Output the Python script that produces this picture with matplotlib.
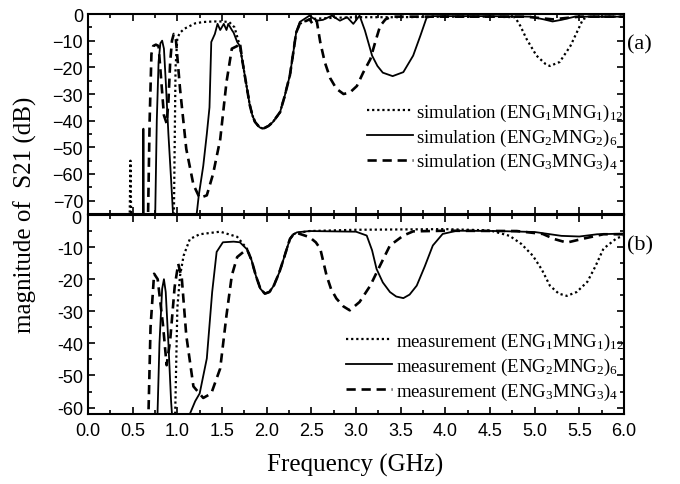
import matplotlib
matplotlib.use("Agg")
import matplotlib.pyplot as plt
from matplotlib.ticker import MultipleLocator, FuncFormatter

plt.rcParams['mathtext.fontset'] = 'custom'
plt.rcParams['mathtext.rm'] = 'Liberation Serif'
plt.rcParams['mathtext.it'] = 'Liberation Serif:italic'

# ---- simulation (top panel) ----
sim1_f = [0.0, 0.465, 0.475, 0.485, 0.96, 0.98, 1.0, 1.03, 1.08, 1.14, 1.2, 1.29, 1.4, 1.5,
          1.58, 1.64, 1.70, 1.73, 1.76, 1.81, 1.84, 1.87, 1.92, 1.96, 2.02, 2.07, 2.15, 2.2,
          2.26, 2.3, 2.33, 2.37, 2.48, 2.7,
          3.0, 3.5, 4.0, 4.5, 4.78, 4.84, 4.91, 5.02, 5.12, 5.17, 5.28, 5.4, 5.49, 5.54,
          5.6, 5.8, 6.0]
sim1_db = [-80, -80, -55, -80, -80, -20, -9, -7, -5.5, -4.5, -3.5, -3, -2.8, -2.8,
           -3, -5, -12, -18, -24, -34, -38, -40.5, -42.5, -43, -42, -40.5, -36.8, -31,
           -23, -14, -7, -3.7, -1.9, -1.5,
           -1.2, -1.2, -1, -1, -1.2, -4.5, -9.4, -15.6, -18.7, -19.5, -18, -12, -5.6, -2,
           -1, -1, -1]

sim2_f = [0.0, 0.615, 0.62, 0.625, 0.75, 0.77, 0.79, 0.81, 0.83, 0.85, 0.87, 0.9, 0.93,
          0.96, 1.2, 1.24, 1.29, 1.33, 1.36, 1.38, 1.42, 1.45, 1.48, 1.52, 1.55, 1.57, 1.61,
          1.63, 1.67, 1.70, 1.73, 1.76, 1.81, 1.84, 1.87, 1.92, 1.96, 2.02, 2.07, 2.15, 2.2,
          2.26, 2.3, 2.33, 2.37, 2.48,
          2.56, 2.63, 2.73, 2.82, 2.9, 2.97, 3.04, 3.1, 3.18, 3.24, 3.3, 3.41, 3.53, 3.64, 3.72,
          3.79, 3.87, 4.5, 4.95, 5.1, 5.2, 5.3, 5.45, 6.0]
sim2_db = [-80, -80, -43, -80, -80, -40, -18, -11, -10, -13, -25, -45, -62,
           -80, -80, -68, -57, -45, -35, -10.5, -7.5, -3.7, -6, -3.7, -6, -3.7, -6,
           -7, -10.5, -12, -18, -24, -34, -38, -40.5, -42.5, -43, -42, -40.5, -36.8, -31,
           -23, -14, -7, -3, -0.6,
           -2.5, -2.2, -0.6, -2.5, -1.2, -3.7, -0.6, -6.2, -15.6, -19.5, -22, -23.3, -21.8, -15.6, -8.2,
           -1.4, -0.8, -0.8, -1, -2, -2.8, -2.2, -1, -1]

sim3_f = [0.0, 0.67, 0.69, 0.71, 0.73, 0.76, 0.79, 0.82, 0.85, 0.88, 0.9, 0.92, 0.94,
          0.96, 0.98, 1.03, 1.1, 1.18, 1.25, 1.33, 1.4, 1.48, 1.55, 1.61, 1.67, 1.70,
          1.73, 1.76, 1.81, 1.84, 1.87, 1.92, 1.96, 2.02, 2.07, 2.15, 2.2, 2.26, 2.3, 2.33,
          2.37, 2.48, 2.52, 2.56, 2.6,
          2.65, 2.71, 2.78, 2.86, 2.93, 3.01, 3.08, 3.16, 3.22, 3.27, 3.33, 3.4, 4.0,
          4.9, 5.05, 5.2, 5.35, 5.5, 6.0]
sim3_db = [-80, -80, -40, -15, -12, -11.5, -12, -25, -38, -41, -33, -18, -10,
           -7.5, -8, -28, -50.6, -64, -69, -68, -60, -47, -25.6, -13, -12, -10.7,
           -18, -24, -34, -38, -40.5, -42.5, -43, -42, -40.5, -36.8, -31, -23, -14, -7,
           -3.7, -2, -4, -2.5, -10.6,
           -18, -24, -28, -30, -29.5, -27, -22, -17, -10, -4.5, -2, -1, -1,
           -1, -1.5, -2, -1.5, -1, -1]

# ---- measurement (bottom panel) ----
meas1_f = [0.0, 0.97, 1.0, 1.03, 1.07, 1.14, 1.25, 1.48, 1.67, 1.78, 1.83, 1.88, 1.93,
           1.98, 2.03, 2.08, 2.14, 2.19, 2.26, 2.3, 2.34, 2.48, 3.0, 3.5, 4.0, 4.5, 4.72,
           4.85, 4.98, 5.08, 5.17, 5.27, 5.36, 5.47, 5.59, 5.68, 5.77, 5.92, 6.0]
meas1_db = [-70, -70, -29, -19, -12.7, -7.5, -6, -5.2, -6.8, -10.5, -14, -19, -23,
            -24.5, -24, -22, -18, -13.7, -7.5, -6, -5.6, -5, -4.6, -4.5, -4.4, -4.8, -6.5,
            -9, -12.7, -17, -22, -24.5, -25.2, -24, -20.8, -16, -10.5, -7.2, -6.5]

meas2_f = [0.0, 0.77, 0.8, 0.83, 0.85, 0.87, 0.9, 0.93, 0.96, 1.14, 1.2, 1.25, 1.33,
           1.39, 1.44, 1.51, 1.63, 1.7, 1.78, 1.83, 1.88, 1.93, 1.98, 2.03, 2.08, 2.14,
           2.19, 2.26, 2.3, 2.34, 2.48, 3.0, 3.12, 3.18, 3.23, 3.3, 3.38, 3.45, 3.53, 3.6,
           3.68, 3.77, 3.86, 3.97, 4.13, 4.6, 5.0, 5.3, 5.5, 5.7, 6.0]
meas2_db = [-70, -70, -40, -23, -20, -24, -40, -58, -70, -62, -58, -55.6, -44.7,
            -24, -11.5, -8.5, -8.3, -8.5, -10.7, -14, -19, -23, -24.5, -24, -22, -18,
            -13.7, -7.5, -6, -5.4, -5, -5.2, -6.4, -11, -16.8, -21, -24, -25.4, -25.9, -24.8,
            -22, -16, -9.5, -5.9, -4.9, -5, -5.3, -6.5, -6.7, -6, -5.8]

meas3_f = [0.0, 0.67, 0.7, 0.74, 0.78, 0.84, 0.88, 0.92, 0.97, 1.01, 1.05, 1.1, 1.18,
           1.29, 1.38, 1.48, 1.55, 1.61, 1.67, 1.74, 1.78, 1.83, 1.88, 1.93, 1.98, 2.03,
           2.08, 2.14, 2.19, 2.26, 2.3, 2.34, 2.48, 2.55, 2.6, 2.67, 2.72, 2.78, 2.86,
           2.93, 3.04, 3.16, 3.27, 3.38, 3.53, 3.64, 4.0,
           4.8, 5.09, 5.22, 5.36, 5.54, 5.77, 6.0]
meas3_db = [-70, -70, -35, -18.3, -20, -34.4, -46.8, -39, -22.4, -15.2, -19.7, -37.5, -53.4,
            -57, -55.6, -47.8, -31.3, -18.8, -13.1, -11.5, -10.7, -14, -19, -23, -24.5, -24,
            -22, -18, -13.7, -7.5, -6, -5.6, -6.9, -8.5, -10.5, -18.8, -23, -26, -28.5,
            -29.7, -27.1, -22, -15.7, -9.5, -6.4, -5.1, -4.9,
            -5, -5.9, -7.5, -8.6, -7.4, -6, -6]

sim_labels = [r'simulation (ENG$_1$MNG$_1$)$_{12}$',
              r'simulation (ENG$_2$MNG$_2$)$_6$',
              r'simulation (ENG$_3$MNG$_3$)$_4$']
meas_labels = [r'measurement (ENG$_1$MNG$_1$)$_{12}$',
               r'measurement (ENG$_2$MNG$_2$)$_6$',
               r'measurement (ENG$_3$MNG$_3$)$_4$']

serif = 'Liberation Serif'
sans = 'Liberation Sans'
dotted = (0, (1, 1.3))
dashed = (0, (3.5, 2.2))

fig = plt.figure(figsize=(6.8, 4.85), dpi=100)
ax1 = fig.add_axes([88 / 680, 1 - 215 / 485, 536 / 680, 200 / 485])
ax2 = fig.add_axes([88 / 680, 1 - 415 / 485, 536 / 680, 199 / 485], sharex=ax1)

ax1.plot(sim1_f, sim1_db, color='black', linestyle=dotted, lw=1.6, label=sim_labels[0])
ax1.plot(sim2_f, sim2_db, color='black', linestyle='-', lw=1.3, label=sim_labels[1])
ax1.plot(sim3_f, sim3_db, color='black', linestyle=dashed, lw=1.9, label=sim_labels[2])

ax2.plot(meas1_f, meas1_db, color='black', linestyle=dotted, lw=1.6, label=meas_labels[0])
ax2.plot(meas2_f, meas2_db, color='black', linestyle='-', lw=1.3, label=meas_labels[1])
ax2.plot(meas3_f, meas3_db, color='black', linestyle=dashed, lw=1.9, label=meas_labels[2])

ax1.set_ylim(-75, 0)
ax2.set_ylim(-62, 0)
ax1.set_xlim(0, 6)

for ax in (ax1, ax2):
    ax.xaxis.set_major_locator(MultipleLocator(0.5))
    ax.xaxis.set_minor_locator(MultipleLocator(0.25))
    ax.yaxis.set_major_locator(MultipleLocator(10))
    ax.yaxis.set_minor_locator(MultipleLocator(5))
    ax.tick_params(which='both', direction='in', top=True, right=True, width=1.2)
    ax.tick_params(which='major', length=5)
    ax.tick_params(which='minor', length=3)
    for sp in ax.spines.values():
        sp.set_linewidth(1.5)

ax1.tick_params(labelbottom=False)
ax2.tick_params(axis='x', pad=6)
ax2.xaxis.set_major_formatter(FuncFormatter(lambda v, p: '%.1f' % v))
# the 0 of the lower panel is written by hand, a bit lower, so it clears -70
ax2.yaxis.set_major_formatter(FuncFormatter(lambda v, p: '' if v == 0 else '%d' % v))
ax2.text(-0.012, 0.982, '0', transform=ax2.transAxes, ha='right', va='center',
         fontsize=13, family=sans)

for ax in (ax1, ax2):
    for lab in ax.get_xticklabels() + ax.get_yticklabels():
        lab.set_fontfamily(sans)
        lab.set_fontsize(13)

leg_kw = dict(frameon=False, loc='center right', borderaxespad=0, borderpad=0,
              handlelength=2.45, handletextpad=0.2, labelspacing=0.2,
              prop={'family': serif, 'size': 13.5})
ax1.legend(bbox_to_anchor=(1.0, 0.385), **leg_kw)
ax2.legend(bbox_to_anchor=(1.0, 0.24), **leg_kw)

ax1.text(1.005, 0.85, '(a)', transform=ax1.transAxes, fontsize=16, family=serif,
         ha='left', va='center')
ax2.text(1.005, 0.85, '(b)', transform=ax2.transAxes, fontsize=16, family=serif,
         ha='left', va='center')

fig.text(0.037, 0.557, 'magnitude of  S21 (dB)', rotation=90, fontsize=18, family=serif,
         ha='center', va='center')
fig.text(0.522, 0.04, 'Frequency (GHz)', fontsize=18, family=serif, ha='center', va='center')

fig.savefig('out.png', dpi=100)
